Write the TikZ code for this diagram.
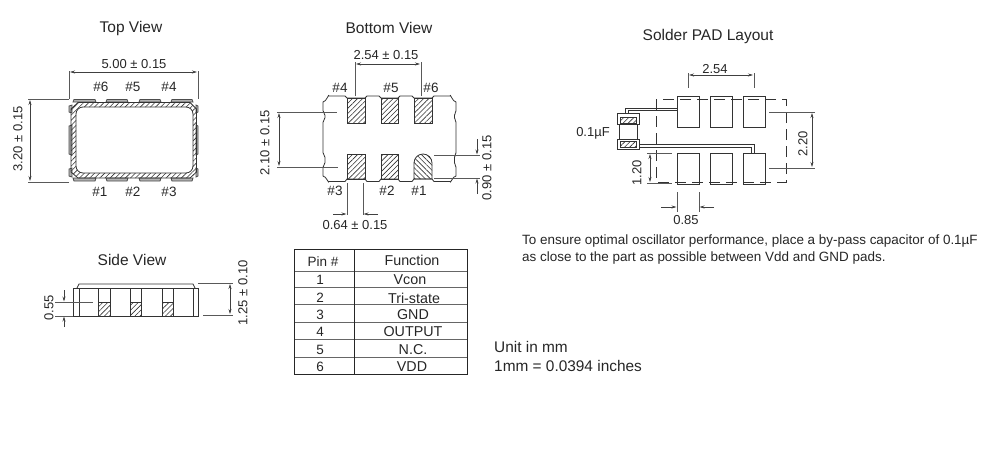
\documentclass[tikz,border=0pt]{standalone}
\usepackage{fontspec}
\setmainfont{Liberation Sans}
\usetikzlibrary{patterns.meta, arrows.meta}

\tikzset{
	title/.style={font=\fontsize{15.5}{17}\selectfont, text=black!85},
	dimtext/.style={font=\fontsize{13}{15}\selectfont, text=black!85, inner sep=0pt},
	pinlabel/.style={font=\fontsize{13.5}{15}\selectfont, text=black!85, inner sep=0pt},
	celltext/.style={font=\fontsize{14.3}{16}\selectfont, text=black!85, inner sep=0pt},
	notetext/.style={font=\fontsize{13.45}{17}\selectfont, text=black!85, inner sep=0pt, anchor=west},
	unittext/.style={font=\fontsize{15.4}{17}\selectfont, text=black!85, inner sep=0pt, anchor=west},
	dim/.style={line width=0.6pt, black!75, {Stealth[length=5pt,width=3pt]}-{Stealth[length=5pt,width=3pt]}},
	dimin/.style={line width=0.6pt, black!75, -{Stealth[length=5pt,width=3pt]}},
	ext/.style={line width=0.7pt, black!65},
	outline/.style={line width=0.8pt, black!80},
	hatchne/.style={pattern={Lines[angle=45, distance=3.6pt, line width=0.6pt]}, pattern color=black!80},
	hatchnw/.style={pattern={Lines[angle=-45, distance=3.6pt, line width=0.6pt]}, pattern color=black!80},
	lead/.style={line width=0.8pt, black!70, fill=black!30},
	dashpad/.style={line width=1pt, black!80, dash pattern=on 11pt off 6pt},
	gridline/.style={line width=1pt, black!60},
	gridframe/.style={line width=0.9pt, black!85}
}

\begin{document}
\begin{tikzpicture}[x=1pt, y=-1pt]
	\useasboundingbox (0, 0) rectangle (988, 451);

	% top view
	\node[title] (toptitle) at (131, 28) {Top View};
	\foreach \a/\b in {73/96, 106/128, 139/161, 171/193} {
			\draw[lead] (\a, 102) -- (\a+1, 99.5) -- (\b-1, 99.5) -- (\b, 102) -- cycle;
			\draw[lead] (\a, 178) -- (\a+1, 181) -- (\b-1, 181) -- (\b, 178) -- cycle;
		}
	\foreach \a/\b in {105/113, 125/155, 168/177} {
			\draw[lead] (72, \a) -- (69, \a+1) -- (69, \b-1) -- (72, \b) -- cycle;
			\draw[lead] (196, \a) -- (198, \a+1) -- (198, \b-1) -- (196, \b) -- cycle;
		}
	\draw[outline, hatchne, even odd rule]
		(78, 102.5) -- (190, 102.5) -- (196.5, 109) -- (196.5, 172) -- (190, 178) -- (78, 178) -- (71, 172) -- (71, 109) -- cycle
		(134, 107) [rounded corners=7pt] -- (193, 107) -- (193, 173) -- (76, 173) -- (76, 107) -- (134, 107);
	\node[dimtext] (topw) at (134, 64) {5.00 ± 0.15};
	\node[dimtext, rotate=90] (toph) at (18, 139) {3.20 ± 0.15};
	\coordinate (topa) at (69, 99);
	\coordinate (topb) at (198, 99);
	\coordinate (topc) at (69, 182);
	\draw[ext] (topa) -- (69, 71);
	\draw[ext] (topb) -- (198, 71);
	\draw[ext] (topa) -- (28, 99);
	\draw[ext] (topc) -- (28, 182);
	\draw[dim] (70, 72) -- (197, 72);
	\draw[dim] (30, 100) -- (30, 181);
	\foreach \n/\x/\y in {6/101/86.5, 5/133/86.5, 4/169/86.5, 1/100/191.5, 2/133/191.5, 3/169/191.5} {
			\node[pinlabel] (top\n) at (\x, \y) {\#\n};
		}

	% bottom view
	\node[title] (bottomtitle) at (389, 27.5) {Bottom View};
	\draw[outline, fill=white]
		(329, 96) -- (345, 96) to[out=0, in=180] (347, 98) -- (365, 98) to[out=0, in=180] (367, 96)
		-- (379, 96) to[out=0, in=180] (381, 98) -- (398, 98) to[out=0, in=180] (400, 96)
		-- (412, 96) to[out=0, in=180] (414, 98) -- (432, 98) to[out=0, in=180] (434, 96)
		-- (450, 96) to[out=90, in=180] (456, 102) -- (456, 111) to[out=90, in=-90] (454.5, 115)
		-- (454.5, 118) to[out=90, in=-90] (456, 122) -- (456, 153) to[out=90, in=-90] (454.5, 157)
		-- (454.5, 163) to[out=90, in=-90] (456, 167) -- (456, 176) to[out=180, in=-90] (450, 181.5)
		-- (434, 181.5) to[out=180, in=0] (432, 179) -- (414, 179) to[out=180, in=0] (412, 181.5)
		-- (400, 181.5) to[out=180, in=0] (398, 179) -- (381, 179) to[out=180, in=0] (379, 181.5)
		-- (367, 181.5) to[out=180, in=0] (365, 179) -- (347, 179) to[out=180, in=0] (345, 181.5)
		-- (329, 181.5) to[out=-90, in=0] (323, 176) -- (323, 167) to[out=-90, in=90] (325, 163)
		-- (325, 157) to[out=-90, in=90] (323, 153) -- (323, 122) to[out=-90, in=90] (325, 118)
		-- (325, 115) to[out=-90, in=90] (323, 111) -- (323, 102) to[out=0, in=90] (329, 96);
	\foreach \a/\b in {347/365, 381/398, 414/432} {
			\draw[outline, hatchne] (\a, 98) rectangle (\b, 123);
		}
	\foreach \a/\b in {347/365, 381/398} {
			\draw[outline, hatchne] (\a, 154) rectangle (\b, 179);
		}
	\draw[outline, hatchnw] (414, 179) -- (414, 163) arc[start angle=180, end angle=360, radius=9] -- (432, 179) -- cycle;
	\node[dimtext] (botpitch) at (386, 55) {2.54 ± 0.15};
	\node[dimtext, rotate=90] (botspan) at (265, 143) {2.10 ± 0.15};
	\node[dimtext, rotate=90] (botlen) at (487, 168) {0.90 ± 0.15};
	\node[dimtext] (botwid) at (355, 225) {0.64 ± 0.15};
	\draw[ext] (355, 96) -- (355, 62);
	\draw[ext] (421, 96) -- (421, 62);
	\draw[dim] (356, 64) -- (420, 64);
	\draw[ext] (277, 112) -- (337, 112);
	\draw[ext] (277, 167) -- (338, 167);
	\draw[dim] (279, 113) -- (279, 166);
	\draw[ext] (434, 155) -- (480, 155);
	\draw[ext] (434, 178) -- (480, 178);
	\draw[dimin] (477, 139) -- (477, 154.5);
	\draw[dimin] (477, 194) -- (477, 178.5);
	\draw[ext] (347, 183) -- (347, 215);
	\draw[ext] (363, 183) -- (363, 215);
	\draw[dimin] (333, 214) -- (346.5, 214);
	\draw[dimin] (378, 214) -- (363.5, 214);
	\foreach \n/\x/\y in {4/340/88, 5/391/88, 6/431/88, 3/335/190.5, 2/387/190.5, 1/419/190.5} {
			\node[pinlabel] (bot\n) at (\x, \y) {\#\n};
		}

	% solder pad layout
	\node[title] (padtitle) at (708, 36.5) {Solder PAD Layout};
	\foreach \a/\b in {677/699, 710/732, 743/765} {
			\draw[outline] (\a, 96) rectangle (\b, 127);
			\draw[outline] (\a, 153) rectangle (\b, 184);
		}
	\draw[dashpad] (656, 99) rectangle (786, 182);
	\draw[outline, fill=white] (617, 113) rectangle (639, 124);
	\draw[outline, fill=white] (617, 139) rectangle (639, 149);
	\draw[outline, hatchne] (620, 117) rectangle (636, 123);
	\draw[outline, hatchne] (620, 141) rectangle (636, 147);
	\draw[outline] (619, 124) -- (619, 139);
	\draw[outline] (637, 124) -- (637, 139);
	\draw[outline] (625.5, 113) |- (677, 108);
	\draw[outline] (628.5, 113) |- (677, 110.5);
	\draw[outline] (639, 144) -| (754, 153);
	\draw[outline] (639, 147) -| (751, 153);
	\node[dimtext] (padcap) at (593, 133) {0.1µF};
	\node[dimtext] (padpitch) at (715, 69) {2.54};
	\node[dimtext, rotate=90] (padspan) at (803, 144) {2.20};
	\node[dimtext, rotate=90] (padlen) at (637, 173) {1.20};
	\node[dimtext] (padwid) at (686, 220) {0.85};
	\draw[ext] (688, 73) -- (688, 88);
	\draw[ext] (754, 73) -- (754, 88);
	\draw[dim] (689, 75) -- (753, 75);
	\draw[ext] (769, 112) -- (815, 112);
	\draw[ext] (769, 168) -- (815, 168);
	\draw[dim] (812, 113) -- (812, 167);
	\draw[ext] (647, 153) -- (672, 153);
	\draw[ext] (647, 183) -- (672, 183);
	\draw[dim] (650, 154) -- (650, 182);
	\draw[ext] (677, 192) -- (677, 212);
	\draw[ext] (699, 192) -- (699, 212);
	\draw[dimin] (661, 207) -- (676.5, 207);
	\draw[dimin] (714, 207) -- (699.5, 207);
	\node[notetext] (note1) at (522, 241.5) {To ensure optimal oscillator performance, place a by-pass capacitor of 0.1µF};
	\node[notetext] (note2) at (522, 258.5) {as close to the part as possible between Vdd and GND pads.};

	% side view
	\node[title] (sidetitle) at (132, 260) {Side View};
	\draw[outline] (77, 288) -- (79, 284) -- (193, 284) -- (195, 288);
	\draw[outline] (73, 288) rectangle (198, 316);
	\draw[outline] (79, 288) -- (79, 316);
	\draw[outline] (193, 288) -- (193, 316);
	\foreach \a/\b in {98/110, 130/141, 162/173} {
			\draw[outline] (\a, 288) -- (\a, 316);
			\draw[outline] (\b, 288) -- (\b, 316);
			\draw[outline, hatchne] (\a, 302) rectangle (\b, 316);
		}
	\node[dimtext, rotate=90] (sidepad) at (49, 308) {0.55};
	\node[dimtext, rotate=90] (sideh) at (243, 293) {1.25 ± 0.10};
	\draw[ext] (55, 302) -- (93, 302);
	\draw[ext] (55, 316) -- (73, 316);
	\draw[dimin] (64, 290) -- (64, 301.5);
	\draw[dimin] (64, 327) -- (64, 316.5);
	\draw[ext] (198, 283) -- (233, 283);
	\draw[ext] (203, 315) -- (233, 315);
	\draw[dim] (230, 284) -- (230, 314);

	% pin table
	\foreach \y in {271, 287, 304, 322, 339, 357} {
			\draw[gridline] (294, \y) -- (467, \y);
		}
	\draw[gridframe] (294, 249) rectangle (467, 374);
	\draw[gridframe] (354, 249) -- (354, 374);
	\node[pinlabel] (pinhead) at (323, 261.5) {Pin \#};
	\node[celltext] (funchead) at (412, 260) {Function};
	\foreach \n/\y/\x/\f in {1/280/410/Vcon, 2/298/414/Tri-state, 3/315/413/GND, 4/332/413/OUTPUT, 5/350/413/N.C., 6/367/412/VDD} {
			\node[pinlabel] (pin\n) at (320, \y-0.5) {\n};
			\node[celltext] (func\n) at (\x, \y) {\f};
		}

	% units
	\node[unittext] (unit1) at (494, 347) {Unit in mm};
	\node[unittext] (unit2) at (494, 366) {1mm = 0.0394 inches};
\end{tikzpicture}
\end{document}
